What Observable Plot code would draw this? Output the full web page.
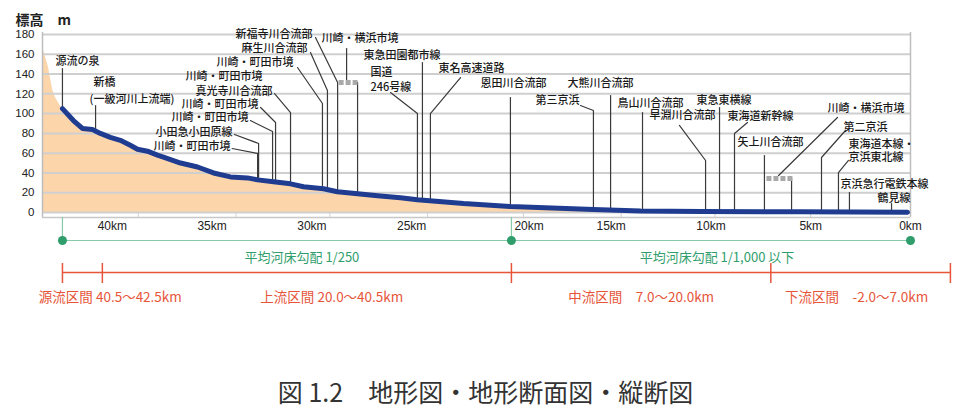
<!DOCTYPE html>
<html><head><meta charset="utf-8">
<script src="https://cdn.jsdelivr.net/npm/d3@7"></script>
<script src="https://cdn.jsdelivr.net/npm/@observablehq/plot@0.6"></script>
<style>
body{margin:0;background:#fff;}
#chart svg{display:block;}
#cap{font-family:"Noto Sans CJK JP",sans-serif;font-size:25px;color:#333;text-align:center;width:971px;margin-top:56px;line-height:30px;}
</style></head><body>
<div id="chart"></div>
<div id="cap">図 1.2　地形図・地形断面図・縦断図</div>
<script>
// ---- data (km from river mouth, elevation m) ----
const profileKm   = [42.5, 41.95, 41.5, 41.0, 40.6, 40.1, 39.6, 39.1, 38.74, 38.24, 37.74, 37.44, 36.58, 35.73, 34.93, 34.08, 33.23, 32.72, 31.92, 31.07, 30.42, 29.42, 28.72, 27.71, 26.71, 25.56, 24.71, 22.40, 20.05, 15.89, 13.53, 10.5, 5.5, 0.15];
const profileElev = [105, 93, 85, 84, 80, 76, 73, 68, 64, 62, 58, 56, 50, 46, 40, 36, 35, 33, 31, 29, 26, 24, 21, 19, 17, 15, 13, 9, 6, 3, 1.5, 1, 0.7, 0.3];
const headKm   = [43.45, 43.2, 43.0, 42.85, 42.55];
const headElev = [164, 147, 125, 116, 106];

const yTicks = [0, 20, 40, 60, 80, 100, 120, 140, 160, 180];
const xTicks = [40, 35, 30, 25, 20, 15, 10, 5, 0];
const frameTicks = [38.7, 33.8, 29.1, 24.2, 19.4, 14.5, 9.8, 5.0];

const gradientBreaks = [42.5, 20, 0];
const gradientLabels = ["平均河床勾配 1/250", "平均河床勾配 1/1,000 以下"];
const gradientLabelKm = [30.5, 9.7];

const sectionBreaks = [42.5, 40.5, 20, 7, -2];
const sectionLabels = ["源流区間 40.5～42.5km", "上流区間 20.0～40.5km", "中流区間　7.0～20.0km", "下流区間　-2.0～7.0km"];
const sectionLabelKm = [40.1, 29.0, 13.5, 2.7];

// annotations: label anchor (km, m) and leader path; leaders drop to the river profile
const notes = [
  {t:"源流の泉", x:42.85, y:152.7, a:"start", p:[[42.5,145.6]]},
  {t:"新橋", x:40.94, y:131.5, a:"start"},
  {t:"(一級河川上流端)", x:41.14, y:114.3, a:"start", p:[[40.84,108.2]]},
  {t:"川崎・町田市境", x:34.08, y:66.7, a:"end", p:[[34.0,64.7],[32.72,59.7]]},
  {t:"小田急小田原線", x:33.98, y:80.9, a:"end", p:[[33.88,78.9],[32.67,69.8]]},
  {t:"川崎・町田市境", x:33.18, y:96.1, a:"end", p:[[33.08,93.0],[31.97,81.9]]},
  {t:"川崎・町田市境", x:32.67, y:109.2, a:"end", p:[[32.57,106.2],[31.82,91.0]]},
  {t:"川崎・町田市境", x:32.47, y:137.5, a:"end"},
  {t:"真光寺川合流部", x:31.97, y:122.4, a:"end", p:[[31.87,120.3],[31.07,101.1]]},
  {t:"川崎・町田市境", x:30.92, y:151.7, a:"end", p:[[30.72,146.6],[29.47,110.2]]},
  {t:"麻生川合流部", x:30.22, y:165.8, a:"end", p:[[30.07,161.8],[29.22,123.4]]},
  {t:"新福寺川合流部", x:29.97, y:180, a:"end", p:[[29.82,177],[28.71,131.5]]},
  {t:"川崎・横浜市境", x:29.52, y:176, a:"start", p:[[28.26,165.8],[28.26,131.5]], down:false},
  {t:"", p:[[27.71,131.5]]},
  {t:"東急田園都市線", x:27.41, y:158.8, a:"start", p:[[24.46,151.7]]},
  {t:"国道", x:27.06, y:141.6, a:"start"},
  {t:"246号線", x:27.06, y:126.4, a:"start", p:[[26.06,121.3],[24.71,100.1]]},
  {t:"東名高速道路", x:23.65, y:145.6, a:"start", p:[[22.55,136.5],[24.06,100.1]]},
  {t:"恩田川合流部", x:21.55, y:130.4, a:"start", p:[[20.05,116.3]]},
  {t:"第三京浜", x:18.79, y:113.3, a:"start", p:[[16.54,108.2],[15.89,103.1]]},
  {t:"大熊川合流部", x:17.19, y:130.4, a:"start", p:[[15.03,118.3]]},
  {t:"鳥山川合流部", x:14.68, y:110.2, a:"start", p:[[13.43,101.1]]},
  {t:"早淵川合流部", x:13.08, y:98.1, a:"start", p:[[11.58,88.0],[10.27,52.6]]},
  {t:"東急東横線", x:10.72, y:113.3, a:"start", p:[[9.57,106.2]]},
  {t:"東海道新幹線", x:9.17, y:97.1, a:"start", p:[[8.17,91.0],[8.82,79.9]]},
  {t:"矢上川合流部", x:8.67, y:70.8, a:"start", p:[[7.32,57.6]]},
  {t:"川崎・横浜市境", x:4.16, y:105.2, a:"start", p:[[3.66,96.1],[6.61,37.4]], down:false},
  {t:"", p:[[5.96,34.4]]},
  {t:"第二京浜", x:3.36, y:86.0, a:"start", p:[[3.26,82.9],[4.46,55.6]]},
  {t:"東海道本線・", x:3.11, y:68.3, a:"start"},
  {t:"京浜東北線", x:3.11, y:55.6, a:"start", p:[[3.11,52.6],[3.61,40.4]]},
  {t:"京浜急行電鉄本線", x:3.51, y:28.3, a:"start", p:[[3.06,20.2]]},
  {t:"鶴見線", x:1.65, y:14.2, a:"start", p:[[0.95,9.1]]}
];
const cityBorders = [{x1:28.66, x2:27.71, y:131.5}, {x1:7.22, x2:5.91, y:34.4}];

// ---- layout constants (metres below the zero line, for the ruler rows) ----
const FRAME_BOTTOM = -5;
const GRAD_Y = -28.3;
const SECT_Y = -60.7, SECT_T1 = -51.6, SECT_T2 = -71.8;

// ---- derived tables ----
const prof = profileKm.map((k, i) => ({km: k, elev: profileElev[i]}));
const areaData = headKm.map((k, i) => ({km: k, elev: headElev[i]})).concat(prof);
function profileAt(k) {
  for (let i = 0; i < prof.length - 1; i++) {
    const a = prof[i], b = prof[i + 1];
    if (k <= a.km && k >= b.km) { const t = (a.km - k) / (a.km - b.km); return a.elev + t * (b.elev - a.elev); }
  }
  return k > prof[0].km ? prof[0].elev : prof[prof.length - 1].elev;
}
const leaders = [];
notes.forEach((n, id) => {
  if (!n.p) return;
  n.p.forEach(([k, m]) => leaders.push({id, km: k, m}));
  if (n.down !== false) { const last = n.p[n.p.length - 1]; leaders.push({id, km: last[0], m: profileAt(last[0])}); }
});
const labelled = notes.filter(n => n.t);
const gradSegs = gradientLabels.map((t, i) => ({x1: gradientBreaks[i], x2: gradientBreaks[i + 1], t, lx: gradientLabelKm[i]}));
const sectLabels = sectionLabels.map((t, i) => ({t, lx: sectionLabelKm[i]}));
const onBreak = d => gradientBreaks.slice(1, -1).includes(d);

const JP = '"Noto Sans CJK JP", sans-serif';
const LAT = '"Liberation Sans", Arial, sans-serif';
const GREEN = "#2f9e6c", GREEN_L = "#86caa8", RED = "#e6553a";

const chart = Plot.plot({
  width: 971, height: 320,
  marginLeft: 42, marginRight: 61, marginTop: 34, marginBottom: 108,
  x: {domain: [43.5, 0], axis: null},
  y: {domain: [0, 180], axis: null},
  style: {fontFamily: JP, background: "white", overflow: "visible"},
  marks: [
    Plot.areaY(areaData, {x: "km", y: "elev", fill: "#fdd5aa"}),
    Plot.ruleY(yTicks, {stroke: "#cfcfcf", strokeWidth: 2}),
    Plot.ruleY([FRAME_BOTTOM], {stroke: "#c8c8c8", strokeWidth: 1.5}),
    Plot.ruleX(frameTicks, {y1: FRAME_BOTTOM, y2: 0, stroke: "#d0d0d0"}),
    Plot.ruleX([43.5, 0], {y1: FRAME_BOTTOM, y2: 182, stroke: "#bdbdbd", strokeWidth: 1.5}),
    Plot.line(leaders, {x: "km", y: "m", z: "id", stroke: "#3a3a3a", strokeWidth: 1.2}),
    Plot.link(cityBorders, {x1: "x1", x2: "x2", y1: "y", y2: "y", stroke: "#a9a9a9", strokeWidth: 5, strokeDasharray: "5,2"}),
    Plot.line(prof, {x: "km", y: "elev", stroke: "#1f3c90", strokeWidth: 5, strokeLinejoin: "round", strokeLinecap: "round"}),
    Plot.text(labelled.filter(n => n.a === "start"), {x: "x", y: "y", text: "t", textAnchor: "start", lineAnchor: "middle", fontSize: 11, fontWeight: 500, fill: "#1a1a1a"}),
    Plot.text(labelled.filter(n => n.a === "end"), {x: "x", y: "y", text: "t", textAnchor: "end", lineAnchor: "middle", fontSize: 11, fontWeight: 500, fill: "#1a1a1a"}),
    // axes
    Plot.text(yTicks, {frameAnchor: "left", y: d => d, dx: -8, textAnchor: "end", text: d => String(d), fontSize: 11.5, fontFamily: LAT, fill: "#222"}),
    Plot.text(xTicks.filter(d => !onBreak(d)), {x: d => d, frameAnchor: "bottom", dy: 17, text: d => d + "km", fontSize: 12, fontFamily: LAT, fill: "#222"}),
    Plot.text(xTicks.filter(onBreak), {x: d => d, frameAnchor: "bottom", dy: 17, dx: 3, textAnchor: "start", text: d => d + "km", fontSize: 12, fontFamily: LAT, fill: "#222"}),
    Plot.text(["標高　m"], {frameAnchor: "top-left", dx: -27, dy: -19, textAnchor: "start", fontSize: 14, fontWeight: "bold", fill: "#222"}),
    // gradient ruler
    Plot.ruleX(gradientBreaks.slice(0, 2), {y1: FRAME_BOTTOM, y2: GRAD_Y, stroke: GREEN_L, strokeWidth: 1.2}),
    Plot.link(gradSegs, {x1: "x1", x2: "x2", y1: GRAD_Y, y2: GRAD_Y, stroke: GREEN_L, strokeWidth: 1.2}),
    Plot.dot(gradientBreaks, {x: d => d, y: GRAD_Y, r: 4.5, fill: GREEN}),
    Plot.text(gradSegs, {x: "lx", y: GRAD_Y, dy: 17, text: "t", fontSize: 13, fill: GREEN}),
    // section ruler
    Plot.link([{x1: sectionBreaks[0], x2: sectionBreaks[sectionBreaks.length - 1]}], {x1: "x1", x2: "x2", y1: SECT_Y, y2: SECT_Y, stroke: RED, strokeWidth: 1.5}),
    Plot.ruleX(sectionBreaks, {y1: SECT_T1, y2: SECT_T2, stroke: RED, strokeWidth: 1.5}),
    Plot.text(sectLabels, {x: "lx", y: SECT_Y, dy: 25, text: "t", fontSize: 13.5, fill: RED})
  ]
});
document.getElementById("chart").appendChild(chart);
</script>
</body></html>
